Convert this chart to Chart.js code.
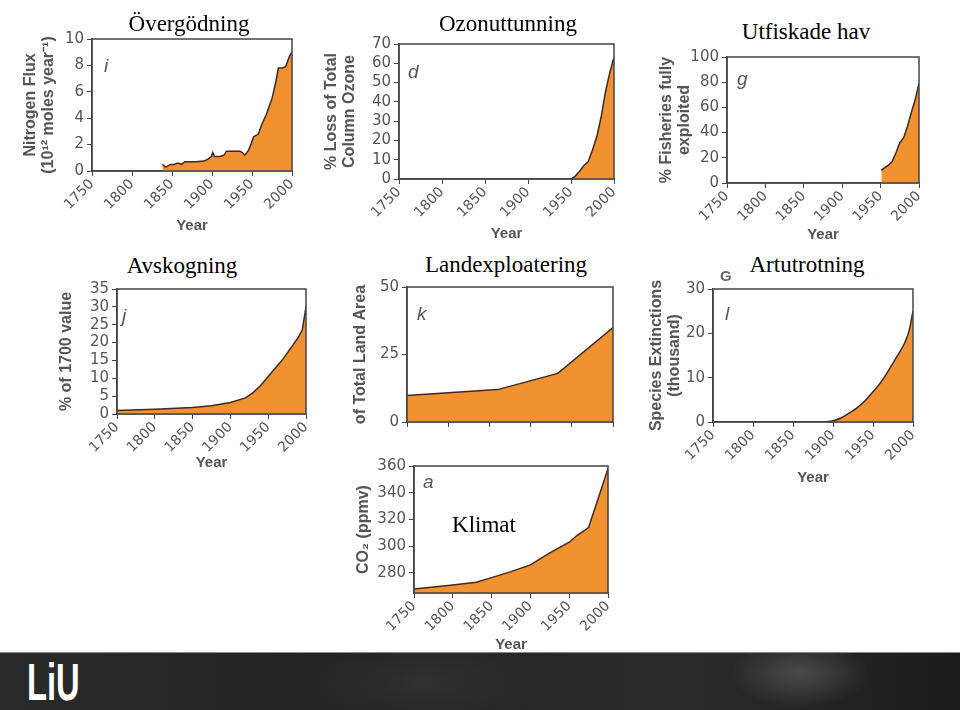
<!DOCTYPE html>
<html>
<head>
<meta charset="utf-8">
<script src="https://cdn.jsdelivr.net/npm/chart.js@4.4.0/dist/chart.umd.min.js"></script>
<style>
  body { margin: 0; width: 960px; height: 710px; background: #fff; position: relative; overflow: hidden; }
  .box { position: absolute; }
  .title {
    position: absolute; font-family: "Liberation Serif", "Times New Roman", serif;
    font-size: 23px; color: #000; line-height: 1; white-space: nowrap;
    transform: translate(-50%, -50%);
  }
  .tag { position: absolute; font: bold 15px "Liberation Sans", Arial, sans-serif; color: #666; }
  #banner {
    position: absolute; left: 0; top: 652px; width: 960px; height: 58px;
    border-top: 1px solid #8a8a8a;
    background:
      radial-gradient(ellipse 70px 35px at 800px 20px, rgba(130,130,130,0.4), rgba(0,0,0,0)),
      radial-gradient(ellipse 120px 50px at 420px 30px, rgba(80,80,80,0.3), rgba(0,0,0,0)),
      linear-gradient(90deg, #2a2a2a, #222 40%, #2b2b2b 70%, #1c1c1c);
  }
  #logo {
    position: absolute; left: 27px; top: 3px; color: #fff;
    font: bold 52px "Liberation Sans", Arial, sans-serif; line-height: 1;
    transform: scaleX(0.63); transform-origin: left top;
  }
</style>
</head>
<body>
<div id="banner"><div id="logo">LiU</div></div>
<script>
const yearTicks = [1750, 1800, 1850, 1900, 1950, 2000];

// i - nitrogen flux
const nitrogenYears = [1838, 1842, 1848, 1852, 1858, 1862, 1866, 1870, 1880, 1890, 1895, 1899, 1901, 1903, 1910, 1915, 1918, 1925, 1935, 1938, 1941, 1945, 1948, 1952, 1958, 1962, 1968, 1975, 1980, 1983, 1988, 1992, 1995, 1997, 2000];
const nitrogenFlux = [0.5, 0.3, 0.5, 0.5, 0.6, 0.5, 0.7, 0.7, 0.7, 0.75, 0.9, 1.1, 1.4, 1.1, 1.1, 1.2, 1.5, 1.5, 1.5, 1.4, 1.2, 1.5, 1.9, 2.6, 2.8, 3.5, 4.3, 5.5, 6.8, 7.8, 7.8, 7.9, 8.4, 8.7, 9.0];
const nitrogenTicks = [0, 2, 4, 6, 8, 10];

// d - ozone loss
const ozoneYears = [1950, 1955, 1960, 1965, 1970, 1975, 1980, 1985, 1990, 1995, 2000];
const ozoneLoss = [0, 1.5, 4, 7, 9, 15, 22, 32, 45, 55, 63];
const ozoneTicks = [0, 10, 20, 30, 40, 50, 60, 70];

// g - fisheries
const fishYears = [1951, 1955, 1960, 1965, 1970, 1975, 1980, 1985, 1990, 1995, 2000];
const fishExploited = [10, 12, 14, 17, 24, 32, 36, 45, 56, 66, 79];
const fishTicks = [0, 20, 40, 60, 80, 100];

// j - deforestation
const forestYears = [1750, 1800, 1850, 1875, 1900, 1920, 1930, 1940, 1950, 1960, 1970, 1980, 1990, 1995, 2000];
const forestLoss = [1, 1.3, 1.8, 2.3, 3.2, 4.5, 6, 8, 10.5, 13, 15.5, 18.5, 21.5, 23.5, 30];
const forestTicks = [0, 5, 10, 15, 20, 25, 30, 35];

// k - land use
const landYears = [1750, 1800, 1860, 1933, 2000];
const landUse = [9.8, 10.8, 12, 18, 35];
const landTicks = [0, 25, 50];

// l - extinctions
const extinctYears = [1890, 1900, 1910, 1920, 1930, 1940, 1950, 1960, 1970, 1980, 1990, 1995, 2000];
const extinctions = [0, 0.3, 0.9, 2, 3.2, 4.8, 6.8, 9, 11.8, 14.8, 18, 20.5, 25];
const extinctTicks = [0, 10, 20, 30];

// a - CO2
const co2Years = [1750, 1800, 1830, 1850, 1875, 1900, 1925, 1950, 1960, 1975, 2000];
const co2Ppmv = [268, 271, 273, 276.5, 281, 286, 295, 303, 308, 314, 358];
const co2Ticks = [280, 300, 320, 340, 360];

const titles = [
  { text: 'Övergödning', x: 189, y: 23 },
  { text: 'Ozonuttunning', x: 508, y: 23 },
  { text: 'Utfiskade hav', x: 806, y: 31 },
  { text: 'Avskogning', x: 182, y: 265 },
  { text: 'Landexploatering', x: 506, y: 264 },
  { text: 'Artutrotning', x: 807, y: 264 },
  { text: 'Klimat', x: 484, y: 524 }
];

const panels = [
  { letter: 'i', years: nitrogenYears, values: nitrogenFlux, yTicks: nitrogenTicks, yMin: 0, yMax: 10,
    yTitle: ['Nitrogen Flux', '(10¹² moles year⁻¹)'], plot: [92, 39, 292, 171], yW: 72, xH: 66, lx: 12, ly: 33 },
  { letter: 'd', years: ozoneYears, values: ozoneLoss, yTicks: ozoneTicks, yMin: 0, yMax: 70,
    yTitle: ['% Loss of Total', 'Column Ozone'], plot: [399, 44, 614, 179], yW: 78, xH: 66, lx: 9, ly: 34 },
  { letter: 'g', years: fishYears, values: fishExploited, yTicks: fishTicks, yMin: 0, yMax: 100,
    yTitle: ['% Fisheries fully', 'exploited'], plot: [727, 57, 919, 183], yW: 71, xH: 63, lx: 10, ly: 28 },
  { letter: 'j', years: forestYears, values: forestLoss, yTicks: forestTicks, yMin: 0, yMax: 35,
    yTitle: '% of 1700 value', plot: [117, 289, 306, 414], yW: 61, xH: 60, lx: 5, ly: 33 },
  { letter: 'k', years: landYears, values: landUse, yTicks: landTicks, yMin: 0, yMax: 50,
    yTitle: 'of Total Land Area', plot: [407, 287, 613, 422], yW: 57, xH: 8, lx: 10, ly: 33, noX: true },
  { letter: 'l', years: extinctYears, values: extinctions, yTicks: extinctTicks, yMin: 0, yMax: 30,
    yTitle: ['Species Extinctions', '(thousand)'], plot: [713, 289, 913, 422], yW: 67, xH: 67, lx: 12, ly: 31, smooth: true },
  { letter: 'a', years: co2Years, values: co2Ppmv, yTicks: co2Ticks, yMin: 265, yMax: 360,
    yTitle: 'CO₂ (ppmv)', plot: [414, 466, 608, 593], yW: 61, xH: 63, lx: 9, ly: 22 }
];

const gray = '#555';
const tickFont = { family: '"DejaVu Sans", sans-serif', size: 15 };
const xTickFont = { family: '"DejaVu Sans", sans-serif', size: 14 };
const titleFont = { family: '"Liberation Sans", Arial, sans-serif', size: 16, weight: 'bold', lineHeight: 1.1 };

// frame around the plot plus the panel letter
const framePlugin = {
  id: 'frame',
  afterDatasetsDraw(chart, args, opts) {
    const { ctx, chartArea: a } = chart;
    ctx.save();
    ctx.strokeStyle = '#444';
    ctx.lineWidth = 1.5;
    ctx.strokeRect(a.left, a.top, a.right - a.left, a.bottom - a.top);
    ctx.fillStyle = gray;
    ctx.font = 'italic 19px "Liberation Sans", Arial, sans-serif';
    ctx.textBaseline = 'alphabetic';
    ctx.fillText(opts.letter, a.left + opts.lx, a.top + opts.ly);
    ctx.restore();
  }
};

function makeChart(p) {
  const [L, T, R, B] = p.plot;
  const padTop = 10, padRight = 14;
  const left = L - p.yW, top = T - padTop;
  const width = p.yW + (R - L) + padRight;
  const height = padTop + (B - T) + p.xH;

  const div = document.createElement('div');
  div.className = 'box';
  div.style.left = left + 'px';
  div.style.top = top + 'px';
  const canvas = document.createElement('canvas');
  canvas.width = width;
  canvas.height = height;
  div.appendChild(canvas);
  document.body.appendChild(div);

  const points = p.years.map((x, i) => ({ x: x, y: p.values[i] }));

  new Chart(canvas, {
    type: 'line',
    data: {
      datasets: [{
        data: points,
        borderColor: '#3b2b22',
        borderWidth: 1.5,
        backgroundColor: '#f2912f',
        fill: 'start',
        pointRadius: 0,
        tension: p.smooth ? 0.4 : 0,
        cubicInterpolationMode: p.smooth ? 'monotone' : 'default'
      }]
    },
    options: {
      responsive: false,
      animation: false,
      layout: { padding: { top: padTop, right: padRight, left: 0, bottom: 0 } },
      plugins: {
        legend: { display: false },
        tooltip: { enabled: false },
        frame: { letter: p.letter, lx: p.lx, ly: p.ly }
      },
      scales: {
        x: {
          type: 'linear', min: 1750, max: 2000,
          afterBuildTicks: s => { s.ticks = yearTicks.map(v => ({ value: v })); },
          afterFit: s => { s.height = p.xH; s.paddingLeft = 0; s.paddingRight = 0; },
          ticks: {
            display: !p.noX, autoSkip: false, maxRotation: 45, minRotation: 45,
            color: gray, font: xTickFont, padding: 0, callback: v => String(v)
          },
          grid: { drawOnChartArea: false, drawTicks: true, tickLength: 5, color: '#444' },
          border: { display: true, color: '#444', width: 1.5 },
          title: {
            display: !p.noX, text: 'Year', color: gray,
            font: { family: '"Liberation Sans", Arial, sans-serif', size: 15, weight: 'bold' },
            padding: { top: 0, bottom: 2 }
          }
        },
        y: {
          min: p.yMin, max: p.yMax,
          afterBuildTicks: s => { s.ticks = p.yTicks.map(v => ({ value: v })); },
          afterFit: s => { s.width = p.yW; s.paddingTop = 0; s.paddingBottom = 0; },
          ticks: { autoSkip: false, color: gray, font: tickFont, padding: 3, callback: v => String(v) },
          grid: { drawOnChartArea: false, drawTicks: true, tickLength: 5, color: '#444' },
          border: { display: true, color: '#444', width: 1.5 },
          title: { display: true, text: p.yTitle, color: gray, font: titleFont, padding: { top: 2, bottom: 2 } }
        }
      }
    },
    plugins: [framePlugin]
  });
}

panels.forEach(makeChart);

titles.forEach(t => {
  const el = document.createElement('div');
  el.className = 'title';
  el.textContent = t.text;
  el.style.left = t.x + 'px';
  el.style.top = t.y + 'px';
  document.body.appendChild(el);
});

const g = document.createElement('div');
g.className = 'tag';
g.textContent = 'G';
g.style.left = '720px';
g.style.top = '267px';
document.body.appendChild(g);
</script>
</body>
</html>
